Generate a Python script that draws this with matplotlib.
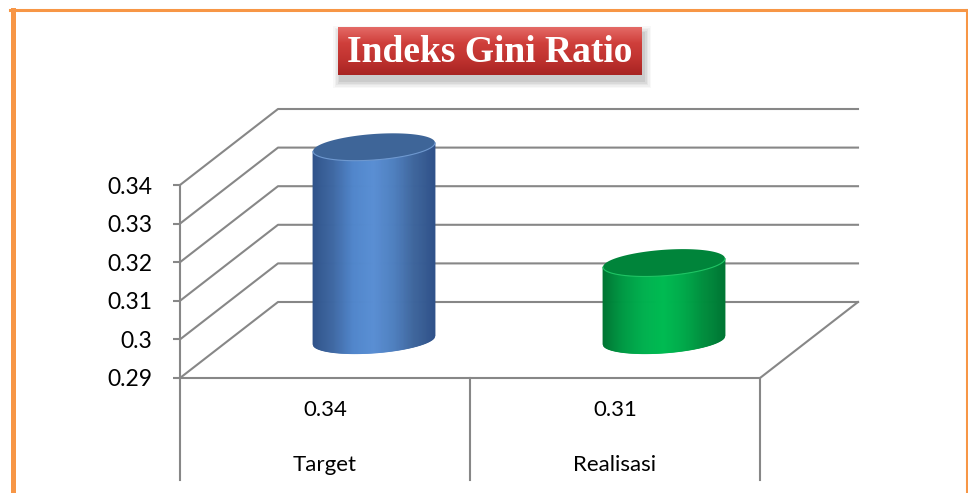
import numpy as np
import matplotlib
matplotlib.use("Agg")
import matplotlib.pyplot as plt
import matplotlib.transforms as mtransforms
from matplotlib.lines import Line2D
from matplotlib.patches import Polygon, Rectangle
from matplotlib.colors import LinearSegmentedColormap

categories = ["Target", "Realisasi"]
values = [0.34, 0.31]
value_labels = ["0.34", "0.31"]
y_ticks = [0.29, 0.30, 0.31, 0.32, 0.33, 0.34]
y_tick_labels = ["0.29", "0.3", "0.31", "0.32", "0.33", "0.34"]
title = "Indeks Gini Ratio"

W, H = 968, 493
grid_c = "#878787"
orange = "#f79646"
depth = np.array([98.0, 76.0])   # pixel offset of the back wall

body_colors = [
    ["#30538a", "#3f68a3", "#5086cb", "#5a8fd4", "#4f80c0", "#3e659c", "#30528a"],
    ["#007533", "#009a44", "#00b04e", "#00bb52", "#00aa4a", "#008d3d", "#007634"],
]
top_colors = ["#3e6598", "#00843a"]
rim_colors = ["#6e98cf", "#1fc464"]

fig = plt.figure(figsize=[W / 100, H / 100], dpi=100)
fig.patch.set_facecolor("white")

ax = fig.add_axes([180 / W, 115 / H, 580 / W, 193 / H])
ax.set_xlim(0, 2)
ax.set_ylim(0.29, 0.34)
ax.patch.set_visible(False)
for s in ["top", "right", "bottom"]:
    ax.spines[s].set_visible(False)
ax.spines["left"].set_color(grid_c)
ax.spines["left"].set_linewidth(1.5)
ax.set_xticks([])
ax.set_yticks(y_ticks)
ax.set_yticklabels(y_tick_labels, fontsize=16.5, family="Lato", color="black")
ax.tick_params(axis="y", direction="out", length=5, width=1.5, color=grid_c, pad=15)

px = mtransforms.IdentityTransform()


def to_px(x, v, back=0.0):
    p = ax.transData.transform((x, v))
    return p + depth * back


def add_px_line(pts, **kw):
    pts = np.array(pts)
    ln = Line2D(pts[:, 0], pts[:, 1], transform=px, color=grid_c, lw=1.5,
                clip_on=False, zorder=1, **kw)
    ax.add_line(ln)


# back wall gridlines + left wall diagonals
for v in y_ticks:
    add_px_line([to_px(0, v), to_px(0, v, 1), to_px(2, v, 1)])

# floor
add_px_line([to_px(0, 0.29), to_px(2, 0.29), to_px(2, 0.29, 1)])

# category dividers below the floor
for x in [0, 1, 2]:
    p = to_px(x, 0.29)
    add_px_line([p, p - np.array([0, 102])])

for i, (cat, lab) in enumerate(zip(categories, value_labels)):
    ax.annotate(lab, xy=(i + 0.5, 0.29), xytext=(0, -32), textcoords="offset pixels",
                ha="center", va="center", fontsize=16, family="Lato", annotation_clip=False)
    ax.annotate(cat, xy=(i + 0.5, 0.29), xytext=(0, -87), textcoords="offset pixels",
                ha="center", va="center", fontsize=16, family="Lato", annotation_clip=False)

# cylinders
a, b, tilt = 61.0, 13.0, 0.07
for i, v in enumerate(values):
    top = to_px(i + 0.5, v, 0.5)
    base = to_px(i + 0.5, 0.29, 0.5)
    xc, yt, yb = top[0], top[1], base[1]
    cmap = LinearSegmentedColormap.from_list("c%d" % i, body_colors[i])

    def front(x):
        u = np.clip((x - xc) / a, -1, 1)
        return tilt * (x - xc) - b * np.sqrt(1 - u ** 2)

    xs = np.linspace(xc - a, xc + a, 121)
    for k in range(len(xs) - 1):
        x0, x1 = xs[k], xs[k + 1]
        col = cmap((k + 0.5) / (len(xs) - 1))
        poly = Polygon([(x0, yb + front(x0)), (x1, yb + front(x1)),
                        (x1, yt + front(x1)), (x0, yt + front(x0))],
                       closed=True, transform=px, facecolor=col, edgecolor=col,
                       lw=0.6, clip_on=False, zorder=3)
        ax.add_patch(poly)

    th = np.linspace(0, 2 * np.pi, 200)
    ex = xc + a * np.cos(th)
    ey = yt + tilt * a * np.cos(th) + b * np.sin(th)
    ax.add_patch(Polygon(np.column_stack([ex, ey]), closed=True, transform=px,
                         facecolor=top_colors[i], edgecolor="none", clip_on=False, zorder=4))
    th2 = np.linspace(np.pi, 2 * np.pi, 100)
    ax.add_line(Line2D(xc + a * np.cos(th2), yt + tilt * a * np.cos(th2) + b * np.sin(th2),
                       transform=px, color=rim_colors[i], lw=0.8, clip_on=False, zorder=5))

# title box with soft shadow
bx0, by0, bw, bh = 338, H - 75, 304, 48
for k, al in enumerate([0.04, 0.05, 0.06, 0.08, 0.10]):
    g = 7 - k * 1.5
    fig.add_artist(Rectangle((bx0 + 2 - g, by0 - 6 - g), bw + 2 * g, bh + 2 * g,
                             transform=px, facecolor="#555555", edgecolor="none",
                             alpha=al, zorder=5))
tb = fig.add_axes([bx0 / W, by0 / H, bw / W, bh / H], zorder=6)
red = LinearSegmentedColormap.from_list("red", ["#e46a66", "#cf3f3b", "#c03330", "#a82422"])
tb.imshow(np.linspace(0, 1, 100).reshape(-1, 1), cmap=red, aspect="auto",
          extent=[0, 1, 0, 1], origin="upper")
tb.set_xlim(0, 1)
tb.set_ylim(0, 1)
tb.axis("off")
tb.text(0.5, 0.47, title, ha="center", va="center", color="white", fontsize=27,
        fontweight="bold", family="Liberation Serif")

# orange frame
fig.add_artist(Line2D([12.5, 12.5], [0, H - 9.5], transform=px, color=orange, lw=3.6))
fig.add_artist(Line2D([10, W], [H - 9.5, H - 9.5], transform=px, color=orange, lw=2.2))
fig.add_artist(Line2D([W - 1.5, W - 1.5], [0, H - 9.5], transform=px, color=orange, lw=2.2))

fig.savefig("out.png", dpi=100)
